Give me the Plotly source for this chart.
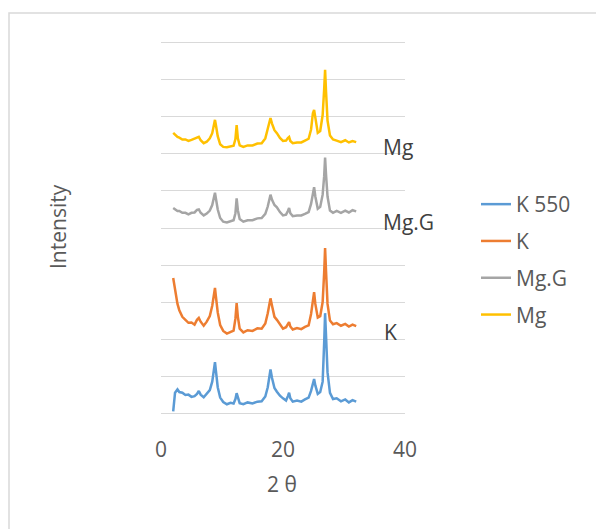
import plotly.graph_objects as go

two_theta = [2.0, 2.3, 2.7, 3.0, 3.5, 4.0, 4.5, 5.0, 5.5, 5.9, 6.2, 6.5, 7.0, 7.5, 8.0, 8.4, 8.7, 8.85, 9.0, 9.3,
             9.7, 10.2, 10.8, 11.4, 11.9, 12.2, 12.4, 12.6, 12.9, 13.5, 14.2, 15.0, 15.8, 16.5, 17.1, 17.5, 17.8,
             17.95, 18.2, 18.6, 19.0, 19.5, 20.0, 20.5, 20.8, 21.0, 21.2, 21.6, 22.3, 23.0, 23.6, 24.2, 24.6, 24.9,
             25.1, 25.3, 25.7, 26.1, 26.5, 26.75, 26.9, 27.05, 27.3, 27.7, 28.2, 28.8, 29.5, 30.2, 30.8, 31.4, 32.0]

k550 = [0.05, 0.55, 0.64, 0.57, 0.55, 0.49, 0.5, 0.44, 0.46, 0.52, 0.6, 0.5, 0.43, 0.52, 0.62, 0.85, 1.25, 1.38, 1.15, 0.7,
        0.42, 0.3, 0.24, 0.28, 0.26, 0.38, 0.54, 0.4, 0.27, 0.24, 0.29, 0.26, 0.31, 0.32, 0.45, 0.7, 1.05,
        1.18, 0.95, 0.68, 0.58, 0.47, 0.4, 0.34, 0.46, 0.55, 0.4, 0.31, 0.34, 0.31, 0.37, 0.42, 0.6, 0.85,
        0.92, 0.75, 0.52, 0.57, 0.85, 1.9, 2.7, 2.1, 1.1, 0.55, 0.38, 0.4, 0.32, 0.37, 0.29, 0.35, 0.31]

k = [3.65, 3.3, 2.95, 2.78, 2.6, 2.52, 2.44, 2.45, 2.39, 2.52, 2.57, 2.47, 2.36, 2.47, 2.62, 2.9, 3.28, 3.38, 3.15, 2.72,
     2.38, 2.22, 2.15, 2.2, 2.23, 2.55, 2.97, 2.6, 2.28, 2.18, 2.24, 2.22, 2.29, 2.28, 2.42, 2.7, 3.0,
     3.1, 2.9, 2.6, 2.52, 2.4, 2.28, 2.32, 2.42, 2.46, 2.34, 2.26, 2.3, 2.27, 2.33, 2.37, 2.68, 3.1,
     3.27, 2.95, 2.58, 2.62, 3.0, 3.8, 4.46, 3.85, 2.95, 2.5, 2.4, 2.43, 2.36, 2.41, 2.34, 2.39, 2.35]

mg_g = [5.54, 5.5, 5.46, 5.46, 5.41, 5.41, 5.37, 5.41, 5.42, 5.49, 5.5, 5.41, 5.34, 5.39, 5.47, 5.62, 5.88, 5.95, 5.8, 5.5,
        5.27, 5.17, 5.15, 5.18, 5.21, 5.4, 5.8, 5.48, 5.24, 5.17, 5.21, 5.21, 5.26, 5.27, 5.38, 5.58, 5.84,
        5.9, 5.76, 5.62, 5.56, 5.43, 5.34, 5.36, 5.46, 5.54, 5.4, 5.32, 5.34, 5.34, 5.38, 5.43, 5.65, 6.0,
        6.1, 5.85, 5.52, 5.57, 5.9, 6.4, 6.9, 6.45, 5.85, 5.47, 5.41, 5.46, 5.41, 5.47, 5.42, 5.48, 5.45]

mg = [7.57, 7.52, 7.46, 7.44, 7.39, 7.39, 7.35, 7.38, 7.41, 7.43, 7.46, 7.37, 7.29, 7.33, 7.42, 7.56, 7.84, 7.92, 7.78, 7.48,
      7.26, 7.19, 7.18, 7.21, 7.22, 7.4, 7.78, 7.42, 7.23, 7.19, 7.23, 7.23, 7.28, 7.29, 7.42, 7.68, 7.92,
      7.97, 7.82, 7.64, 7.56, 7.43, 7.35, 7.36, 7.43, 7.46, 7.35, 7.29, 7.31, 7.31, 7.36, 7.41, 7.66, 8.1,
      8.19, 7.95, 7.57, 7.62, 8.05, 8.75, 9.27, 8.7, 7.9, 7.5, 7.39, 7.36, 7.32, 7.37, 7.31, 7.35, 7.32]

series_names = ["K 550", "K", "Mg.G", "Mg"]
series_values = [k550, k, mg_g, mg]
series_colors = ["#5B9BD5", "#ED7D31", "#A5A5A5", "#FFC000"]

label_texts = ["Mg", "Mg.G", "K"]
label_x = [36.0, 36.0, 36.2]
label_y = [7.2, 5.15, 2.2]

x_ticks = [0, 20, 40]
y_grid = [0, 1, 2, 3, 4, 5, 6, 7, 8, 9, 10]

FONT = "Open Sans"
TXT = "#595959"
FS = 21

# page offset (browser body margin) compensation
OFF = 8
L, T, W, H = 153, 33, 244, 374
Y_PAD = 0.05


def px_x(p):
    return (p - OFF - L) / W


def px_y(p):
    return (T + H - (p - OFF)) / H


fig = go.Figure()
for name, vals, col in zip(series_names, series_values, series_colors):
    fig.add_trace(go.Scatter(x=two_theta, y=vals, mode="lines", name=name, legendgroup=name,
                             line=dict(color=col, width=2.5)))

for t, xx, yy in zip(label_texts, label_x, label_y):
    fig.add_annotation(x=xx, y=yy, text=t, showarrow=False, xanchor="left", yanchor="middle",
                       font=dict(family=FONT, size=FS, color="#404040"))

fig.add_annotation(xref="paper", yref="paper", x=px_x(58), y=px_y(227), text="Intensity",
                   textangle=-90, showarrow=False, xanchor="center", yanchor="middle",
                   font=dict(family=FONT, size=FS, color=TXT))
fig.add_annotation(xref="paper", yref="paper", x=px_x(282), y=px_y(484), text="2 θ",
                   showarrow=False, xanchor="center", yanchor="middle",
                   font=dict(family=FONT, size=FS, color=TXT))

fig.add_shape(type="rect", xref="paper", yref="paper", x0=px_x(9), x1=px_x(599),
              y0=px_y(560), y1=px_y(13),
              line=dict(color="#d9d9d9", width=1.5), layer="below")

fig.update_layout(
    width=604, height=529,
    margin=dict(l=L, r=604 - L - W, t=T, b=529 - T - H, autoexpand=False),
    paper_bgcolor="white", plot_bgcolor="white",
    font=dict(family=FONT, size=FS, color=TXT),
    showlegend=True,
    legend=dict(x=px_x(476), y=px_y(184), xanchor="left", yanchor="top", tracegroupgap=6.5,
                font=dict(family=FONT, size=FS, color=TXT), bgcolor="rgba(0,0,0,0)"),
    xaxis=dict(range=[0, 40], tickvals=x_ticks, showgrid=False, zeroline=False, showline=False,
               ticks="", ticklabelstandoff=20, automargin=False,
               tickfont=dict(family=FONT, size=FS, color=TXT)),
    yaxis=dict(range=[-Y_PAD, 10 + Y_PAD], tickvals=y_grid, showticklabels=False, showgrid=True,
               gridcolor="#d9d9d9", gridwidth=1, zeroline=False, showline=False, ticks="",
               automargin=False),
)

fig.write_html("out.html")
